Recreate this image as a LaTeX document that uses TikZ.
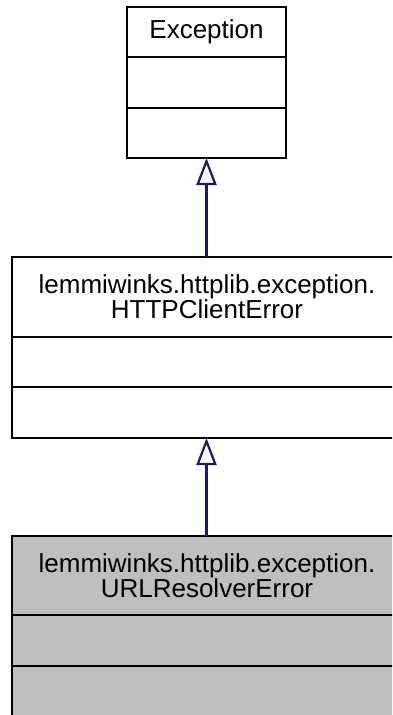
\documentclass[tikz,border=0pt]{standalone}
\usepackage{fontspec}
\setmainfont{Liberation Sans}
\usetikzlibrary{arrows.meta}
\definecolor{edgeblue}{HTML}{191970}
\definecolor{hilite}{HTML}{BFBFBF}
\begin{document}
\begin{tikzpicture}[x=1pt,y=-1pt,
  classbox/.style={draw=black, line width=2.4pt, inner sep=0pt, outer sep=0pt, anchor=north west},
  sepline/.style={draw=black, line width=2.4pt},
  lbl/.style={font=\fontsize{26}{25}\selectfont, align=center, inner sep=0pt},
  inherit/.style={draw=edgeblue, line width=2.2pt, -{Triangle[open, length=27pt, width=20pt]}}]
\useasboundingbox (0,0) rectangle (392,715);
\begin{scope}
\clip (0,0) rectangle (392,715);
% Exception
\node[classbox, fill=white, minimum width=159pt, minimum height=151pt] (exc) at (127,7) {};
\draw[sepline] (127,57) -- (286,57);
\draw[sepline] (127,108) -- (286,108);
\node[lbl] (excname) at (206.5,32) {Exception};
% HTTPClientError
\node[classbox, fill=white, minimum width=390pt, minimum height=181pt] (http) at (12,257) {};
\draw[sepline] (12,337) -- (402,337);
\draw[sepline] (12,387) -- (402,387);
\node[lbl] (httpname) at (207,297) {lemmiwinks.httplib.exception.\\HTTPClientError};
% URLResolverError
\node[classbox, fill=hilite, minimum width=390pt, minimum height=181pt] (url) at (12,536) {};
\draw[sepline] (12,615) -- (402,615);
\draw[sepline] (12,666) -- (402,666);
\node[lbl] (urlname) at (207,576) {lemmiwinks.httplib.exception.\\URLResolverError};
\end{scope}
\draw[inherit] (http.north -| exc.south) -- (exc.south);
\draw[inherit] (url.north -| exc.south) -- (http.south -| exc.south);
\end{tikzpicture}
\end{document}
